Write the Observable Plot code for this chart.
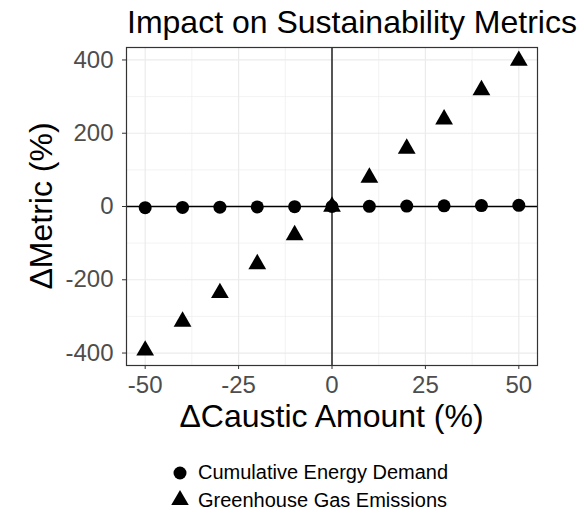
<!DOCTYPE html>
<html>
<head>
<meta charset="utf-8">
<script src="https://cdn.jsdelivr.net/npm/d3@7"></script>
<script src="https://cdn.jsdelivr.net/npm/@observablehq/plot@0.6"></script>
<style>
  html, body { margin: 0; padding: 0; background: white; }
  #wrap { position: relative; width: 584px; height: 514px; background: white; font-family: "Liberation Sans", Arial, Helvetica, sans-serif; color: black; }
  .abs { position: absolute; white-space: nowrap; }
</style>
</head>
<body>
<div id="wrap">
  <div class="abs" id="title" style="left:127px;top:6px;font-size:32px;line-height:32px;">Impact on Sustainability Metrics</div>
  <div class="abs" id="chart" style="left:0;top:40px;"></div>
  <div class="abs" id="xtitle" style="left:131.5px;top:400px;width:400px;text-align:center;font-size:32px;line-height:32px;">ΔCaustic Amount (%)</div>
  <div class="abs" id="ytitle" style="left:-109px;top:190px;width:300px;height:32px;text-align:center;font-size:32px;line-height:32px;transform:rotate(-90deg);">ΔMetric (%)</div>
  <div class="abs" id="legend" style="left:0;top:455px;"></div>
</div>
<script>
// ---- data ----
const causticChange = [-50, -40, -30, -20, -10, 0, 10, 20, 30, 40, 50];
const cumulativeEnergyDemand = [-3.1, -2.5, -1.9, -1.2, -0.6, 0, 0.6, 1.2, 1.8, 2.5, 3.1];
const greenhouseGasEmissions = [-393, -314, -236, -157, -78, 0, 79, 158, 238, 318, 398];
const seriesNames = ["Cumulative Energy Demand", "Greenhouse Gas Emissions"];
const seriesSymbols = ["circle", "triangle"];
const xTicks = [-50, -25, 0, 25, 50];
const xMinorTicks = [-37.5, -12.5, 12.5, 37.5];
const yTicks = [-400, -200, 0, 200, 400];
const yMinorTicks = [-300, -100, 100, 300];

const rows = [];
causticChange.forEach((c, i) => rows.push({x: c, y: cumulativeEnergyDemand[i], series: seriesNames[0]}));
causticChange.forEach((c, i) => rows.push({x: c, y: greenhouseGasEmissions[i], series: seriesNames[1]}));

const fontFamily = '"Liberation Sans", Arial, Helvetica, sans-serif';

const chart = Plot.plot({
  width: 584,
  height: 400,
  marginLeft: 126,
  marginRight: 47,
  marginTop: 7,
  marginBottom: 75,
  style: {fontFamily, fontSize: "24px", background: "white", color: "#4D4D4D", overflow: "visible"},
  x: {domain: [-55, 55]},
  y: {domain: [-434, 434]},
  symbol: {domain: seriesNames, range: seriesSymbols},
  marks: [
    Plot.gridX(xMinorTicks, {stroke: "#EBEBEB", strokeOpacity: 1, strokeWidth: 0.6}),
    Plot.gridY(yMinorTicks, {stroke: "#EBEBEB", strokeOpacity: 1, strokeWidth: 0.6}),
    Plot.gridX(xTicks, {stroke: "#EBEBEB", strokeOpacity: 1, strokeWidth: 1.2}),
    Plot.gridY(yTicks, {stroke: "#EBEBEB", strokeOpacity: 1, strokeWidth: 1.2}),
    Plot.ruleX([0], {stroke: "black", strokeWidth: 1.3}),
    Plot.ruleY([0], {stroke: "black", strokeWidth: 1.3}),
    Plot.axisX(xTicks, {tickSize: 4, tickPadding: 6, label: null, tickFormat: d => String(d), stroke: "#333333", fill: "#4D4D4D", fontSize: 24}),
    Plot.axisY(yTicks, {tickSize: 4, tickPadding: 9, label: null, tickFormat: d => String(d), stroke: "#333333", fill: "#4D4D4D", fontSize: 24}),
    Plot.dot(rows.filter(d => d.series === seriesNames[0]), {x: "x", y: "y", symbol: "series", fill: "black", stroke: "none", r: 6.5}),
    Plot.dot(rows.filter(d => d.series === seriesNames[1]), {x: "x", y: "y", symbol: "series", fill: "black", stroke: "none", r: 6.6}),
    Plot.frame({stroke: "#333333", strokeWidth: 1.2})
  ]
});
document.getElementById("chart").appendChild(chart);

// ---- legend ----
const leg = d3.select("#legend").append("svg").attr("width", 584).attr("height", 59).style("overflow", "visible");
const symMap = {circle: d3.symbolCircle, triangle: d3.symbolTriangle};
seriesNames.forEach((name, i) => {
  const cy = i === 0 ? 18 : 45;
  const r = 6.5;
  leg.append("path")
    .attr("transform", `translate(180,${cy})`)
    .attr("d", d3.symbol(symMap[seriesSymbols[i]], Math.PI * r * r)())
    .attr("fill", "black");
  leg.append("text")
    .attr("x", 198)
    .attr("y", i === 0 ? 24 : 52)
    .attr("font-family", fontFamily)
    .attr("font-size", 20)
    .attr("fill", "black")
    .text(name);
});
</script>
</body>
</html>
